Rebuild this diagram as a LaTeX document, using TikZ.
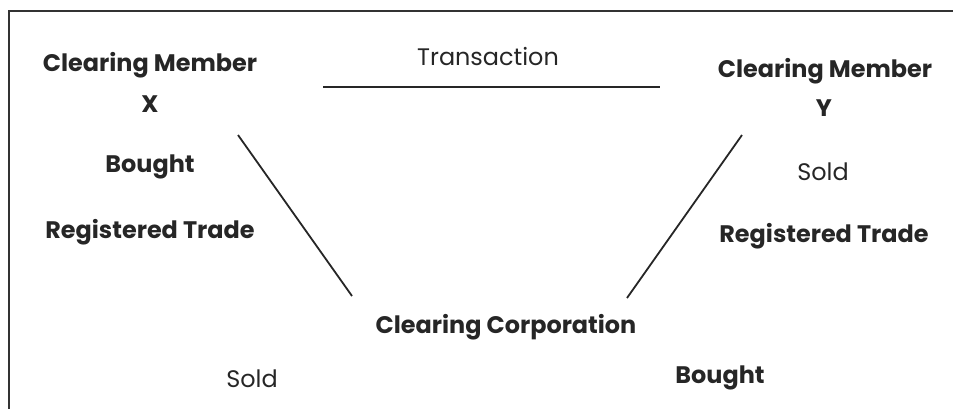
\documentclass[tikz,border=0pt]{standalone}
\usepackage{fontspec}
\setmainfont{Poppins}
\begin{document}
\begin{tikzpicture}[x=1bp,y=-1bp,
  lbl/.style={inner sep=0pt,anchor=center,font=\fontsize{24}{26}\selectfont,text=black!85},
  blbl/.style={lbl,font=\fontsize{24}{26}\selectfont\bfseries},
  conn/.style={line width=1.8bp,black!85}]
\useasboundingbox (0,0) rectangle (953,408);
\clip (0,0) rectangle (953,408);
\draw[line width=2bp,black!80] (9,430) -- (9,11) -- (970,11);
\node[blbl] (cmx) at (150,65) {Clearing Member};
\node[blbl] (x) at (150,104) {X};
\node[blbl] (bx) at (150,167) {Bought};
\node[blbl] (rtx) at (150,232) {Registered Trade};
\node[lbl] (tr) at (488,57) {Transaction};
\node[blbl] (cmy) at (825,71) {Clearing Member};
\node[blbl] (y) at (824,108) {Y};
\node[lbl] (sy) at (823,172) {Sold};
\node[blbl] (rty) at (824,236) {Registered Trade};
\node[blbl] (cc) at (506,327) {Clearing Corporation};
\node[lbl] (sold) at (252,379) {Sold};
\node[blbl] (bought) at (720,378) {Bought};
\coordinate (ta) at (323,87);
\coordinate (tb) at (660,87);
\coordinate (la) at (238,135);
\coordinate (lb) at (352,296);
\coordinate (ra) at (742,135);
\coordinate (rb) at (627,298);
\draw[conn] (ta) -- (tb);
\draw[conn] (la) -- (lb);
\draw[conn] (ra) -- (rb);
\end{tikzpicture}
\end{document}
